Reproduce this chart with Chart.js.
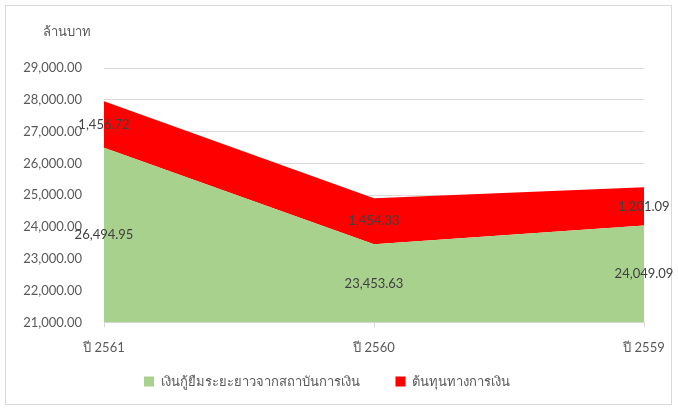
<!DOCTYPE html>
<html>
<head>
<meta charset="utf-8">
<script src="https://cdn.jsdelivr.net/npm/chart.js@4/dist/chart.umd.min.js"></script>
<style>
  html, body { margin: 0; padding: 0; background: #fff; }
  #wrap { width: 678px; height: 410px; }
</style>
</head>
<body>
<div id="wrap"><canvas id="chart" width="678" height="410"></canvas></div>
<script>
// ข้อมูล (ล้านบาท)
const years = ['ปี 2561', 'ปี 2560', 'ปี 2559'];
const loans = [26494.95, 23453.63, 24049.09];
const financeCost = [1456.72, 1454.33, 1201.09];
const seriesNames = ['เงินกู้ยืมระยะยาวจากสถาบันการเงิน', 'ต้นทุนทางการเงิน'];
const yTicks = { min: 21000, max: 29000, step: 1000 };

const FONT = 'Lato, "Noto Sans", "DejaVu Sans", sans-serif';
const TXT = '#595959';

const fmt = v => v.toLocaleString('en-US', { minimumFractionDigits: 2, maximumFractionDigits: 2 });

// กรอบ + หัวแกน + ป้ายค่า
const extras = {
    id: 'extras',
    beforeDraw(chart) {
        const c = chart.ctx;
        c.save();
        c.fillStyle = '#fff';
        c.fillRect(0, 0, chart.width, chart.height);
        c.strokeStyle = '#d9d9d9';
        c.lineWidth = 1;
        c.strokeRect(5.5, 5.5, 666, 399);
        c.restore();
    },
    afterDatasetsDraw(chart) {
        const c = chart.ctx;
        c.save();
        c.font = '13px ' + FONT;
        c.fillStyle = TXT;
        c.textAlign = 'left';
        c.textBaseline = 'middle';
        c.fillText('ล้านบาท', 43, 32);

        c.fillStyle = '#404040';
        c.textAlign = 'center';
        const base = chart.scales.y.getPixelForValue(yTicks.min);
        const m0 = chart.getDatasetMeta(0), m1 = chart.getDatasetMeta(1);
        m0.data.forEach((pt, i) => {
            const top1 = m1.data[i].y;
            c.fillText(fmt(loans[i]), pt.x, (pt.y + base) / 2);
            c.fillText(fmt(financeCost[i]), pt.x, (pt.y + top1) / 2);
        });
        c.restore();
    }
};

new Chart(document.getElementById('chart'), {
    type: 'line',
    data: {
        labels: years,
        datasets: [{
            label: seriesNames[0],
            data: loans,
            backgroundColor: '#a9d18e',
            borderWidth: 0,
            pointRadius: 0,
            fill: 'origin'
        }, {
            label: seriesNames[1],
            data: financeCost,
            backgroundColor: '#ff0000',
            borderWidth: 0,
            pointRadius: 0,
            fill: '-1'
        }]
    },
    options: {
        responsive: false,
        animation: false,
        layout: { padding: { top: 68, left: 10, right: 34, bottom: 12 } },
        scales: {
            x: {
                offset: false,
                grid: { drawOnChartArea: false, color: '#d9d9d9', tickLength: 5 },
                border: { color: '#d9d9d9' },
                ticks: { color: TXT, font: { family: FONT, size: 13 }, padding: 13, maxRotation: 0 }
            },
            y: {
                stacked: true,
                min: yTicks.min,
                max: yTicks.max,
                grid: { color: '#d9d9d9', drawTicks: false },
                border: { display: false },
                ticks: {
                    stepSize: yTicks.step,
                    color: TXT,
                    font: { family: FONT, size: 13 },
                    padding: 22,
                    callback: v => fmt(v)
                },
                afterFit(scale) { scale.width = 94; }
            }
        },
        plugins: {
            legend: {
                position: 'bottom',
                labels: {
                    boxWidth: 10, boxHeight: 10, padding: 6,
                    color: TXT, font: { family: FONT, size: 13 },
                    // เว้นระยะระหว่างรายการ legend
                    generateLabels(chart) {
                        const items = Chart.defaults.plugins.legend.labels.generateLabels(chart);
                        items[0].text += '         ';
                        return items;
                    }
                }
            },
            tooltip: { enabled: false }
        }
    },
    plugins: [extras]
});
</script>
</body>
</html>
